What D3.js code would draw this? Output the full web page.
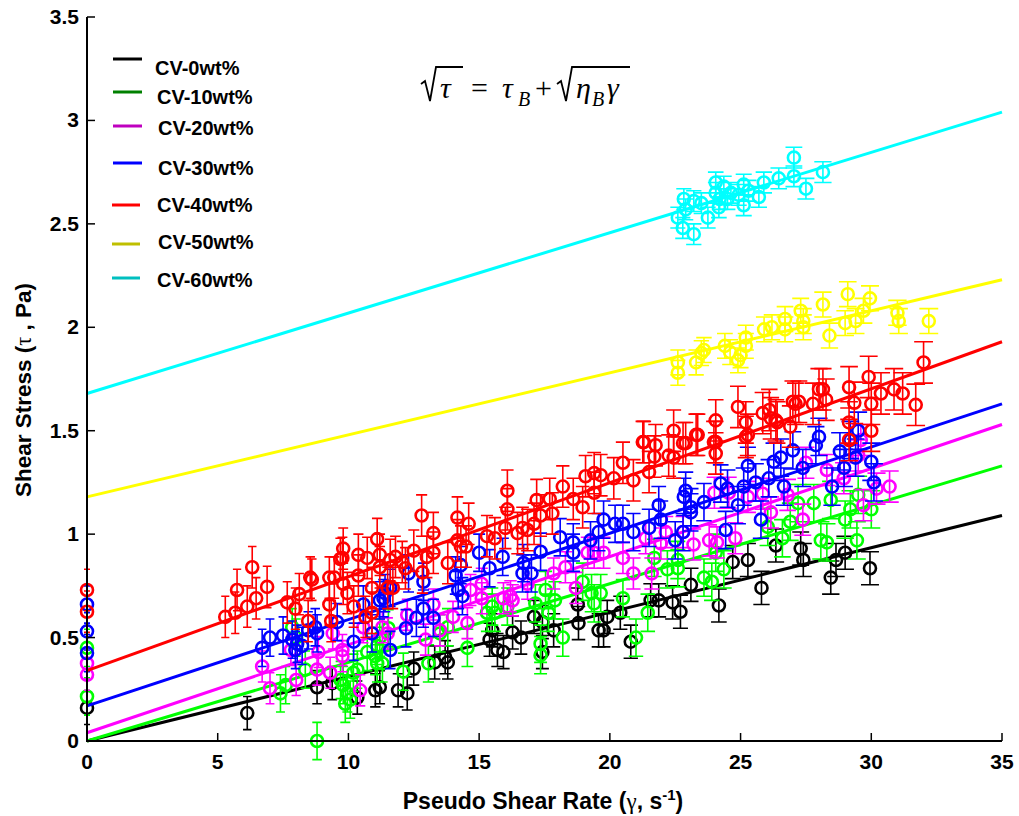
<!DOCTYPE html>
<html><head><meta charset="utf-8">
<script src="https://cdn.jsdelivr.net/npm/d3@7"></script>
<style>
html,body{margin:0;padding:0;background:#fff;}
svg{display:block;font-family:"Liberation Sans",Arial,sans-serif;}
</style></head>
<body>
<svg id="chart" width="1019" height="816"></svg>
<script>
// ---------------- DATA ----------------
const seriesNames = ["CV-0wt%","CV-10wt%","CV-20wt%","CV-30wt%","CV-40wt%","CV-50wt%","CV-60wt%"];
const xTicks = [0,5,10,15,20,25,30,35];
const yTicks = [0,0.5,1,1.5,2,2.5,3,3.5];
const yTickLabels = ["0","0.5","1","1.5","2","2.5","3","3.5"];
// fitted line values [at x=0, at x=35]
const fitStart = [0.0, 0.0, 0.04, 0.17, 0.34, 1.18, 1.68];
const fitEnd   = [1.09, 1.33, 1.53, 1.63, 1.93, 2.23, 3.04];
// error bar half lengths (Pa)
const errHalf = [0.08, 0.09, 0.075, 0.09, 0.10, 0.06, 0.05];

const cv0 = [[0,0.16],[6.13,0.135],[8.8,0.26],[9.38,0.28],[10.34,0.21],[11.03,0.245],[11.9,0.245],[12.25,0.23],[11.2,0.26],[12.5,0.35],[13.3,0.38],[13.8,0.38],[13.7,0.405],[15.5,0.535],[15.93,0.43],[16.28,0.525],[16.6,0.50],[17.1,0.60],[17.42,0.575],[17.42,0.43],[18.77,0.66],[18.8,0.57],[19.57,0.535],[17.85,0.535],[15.4,0.49],[15.7,0.44],[19.76,0.535],[19.9,0.60],[20.4,0.62],[20.8,0.48],[21.56,0.68],[21.87,0.68],[22.4,0.67],[22.7,0.625],[23.1,0.755],[24.17,0.655],[25.28,0.875],[25.8,0.74],[26.35,0.945],[27.3,0.93],[27.4,0.875],[24.7,0.865],[28.45,0.79],[28.65,0.875],[29.0,0.91],[29.95,0.835]];
const cv10 = [[0,0.45],[0,0.215],[7.4,0.23],[7.6,0.27],[7.85,0.55],[8.0,0.50],[8.8,0.0],[8.35,0.345],[9.8,0.27],[9.88,0.18],[9.96,0.23],[10.07,0.20],[10.19,0.33],[9.7,0.295],[11.03,0.41],[11.1,0.46],[11.1,0.375],[11.2,0.50],[10.72,0.43],[10.34,0.345],[11.53,0.545],[11.3,0.375],[12.1,0.335],[13.06,0.375],[13.5,0.52],[14.55,0.45],[15.3,0.62],[15.5,0.65],[15.6,0.62],[16.08,0.65],[17.15,0.665],[17.54,0.73],[17.65,0.62],[17.9,0.68],[18.2,0.50],[17.35,0.47],[17.35,0.415],[18.96,0.77],[19.3,0.715],[19.4,0.665],[13.8,0.55],[19.65,0.715],[20.5,0.69],[21.0,0.50],[21.45,0.62],[21.7,0.885],[22.2,0.83],[22.6,0.835],[22.6,0.875],[23.6,0.79],[23.9,0.77],[24.36,0.83],[24.05,0.91],[26.04,1.035],[26.6,0.98],[26.9,1.06],[27.2,1.15],[27.8,1.15],[28.07,0.97],[28.3,0.96],[29.0,1.07],[29.2,1.12],[29.5,1.19],[28.45,1.165],[29.45,0.97],[30.0,1.12]];
const cv20 = [[0,0.375],[0,0.32],[6.7,0.36],[7.0,0.255],[8.0,0.295],[7.8,0.44],[8.8,0.345],[8.85,0.43],[9.3,0.33],[9.77,0.41],[10.45,0.245],[9.4,0.52],[9.77,0.44],[11.5,0.52],[10.57,0.55],[11.3,0.55],[12.25,0.61],[12.95,0.49],[13.5,0.535],[14.0,0.60],[14.55,0.57],[14.67,0.73],[15.1,0.76],[15.1,0.69],[15.93,0.69],[16.2,0.70],[16.28,0.68],[16.85,0.76],[17.85,0.81],[18.3,0.84],[18.7,0.74],[19.15,0.91],[19.4,0.91],[13.25,0.66],[19.76,0.91],[20.5,0.885],[20.9,0.81],[21.6,0.81],[21.37,0.98],[21.95,0.955],[22.14,1.01],[22.8,1.01],[23.2,0.95],[23.8,0.97],[24.1,0.96],[24.8,0.98],[24.0,1.20],[24.55,1.20],[25.28,1.18],[25.85,1.195],[26.16,1.105],[26.8,1.19],[27.38,1.07],[27.5,1.345],[28.3,1.31],[28.95,1.27],[29.5,1.38],[29.7,1.14],[30.2,1.22],[30.7,1.23],[29.6,1.455]];
const cv30 = [[0,0.66],[0,0.53],[0,0.425],[6.7,0.45],[7.0,0.50],[7.5,0.51],[7.85,0.49],[7.97,0.44],[8.04,0.47],[8.23,0.46],[8.46,0.535],[8.8,0.52],[8.73,0.55],[9.57,0.575],[10.2,0.48],[10.57,0.66],[10.9,0.52],[11.34,0.69],[11.6,0.44],[11.6,0.74],[11.2,0.68],[11.4,0.715],[12.2,0.545],[12.3,0.81],[12.6,0.595],[12.87,0.64],[12.87,0.77],[13.25,0.595],[14.2,0.73],[14.36,0.70],[14.1,0.80],[14.3,0.85],[15.0,0.91],[15.4,0.835],[15.9,0.89],[16.66,0.81],[16.7,0.86],[17.0,0.81],[17.35,0.915],[18.1,0.985],[18.6,0.91],[18.6,0.96],[19.26,0.97],[19.57,1.01],[19.76,1.07],[20.2,1.05],[20.5,1.05],[20.9,1.01],[21.5,1.03],[21.87,1.14],[21.95,1.07],[22.5,0.97],[22.8,1.01],[22.9,1.21],[22.83,1.18],[23.1,1.13],[23.1,1.105],[23.6,1.155],[24.24,1.245],[24.5,1.22],[24.43,1.02],[24.9,1.14],[25.12,1.23],[25.28,1.33],[25.58,1.25],[25.78,1.07],[26.08,1.27],[26.27,1.35],[26.54,1.37],[26.66,1.23],[27.0,1.405],[27.38,1.32],[27.88,1.43],[28.0,1.47],[28.5,1.23],[28.96,1.32],[29.4,1.37],[29.5,1.50],[30.0,1.35],[30.1,1.25],[29.2,1.455],[28.8,1.40]];
const cv40 = [[0,0.73],[0,0.625],[5.29,0.60],[5.67,0.62],[5.74,0.73],[6.13,0.65],[6.32,0.84],[6.47,0.69],[6.89,0.745],[7.66,0.67],[7.97,0.64],[8.12,0.71],[8.54,0.79],[8.6,0.78],[8.46,0.58],[9.27,0.79],[9.27,0.66],[9.34,0.58],[9.46,0.79],[9.69,0.88],[9.8,0.93],[9.8,0.76],[9.96,0.715],[10.2,0.65],[10.38,0.90],[10.38,0.80],[10.65,0.60],[10.72,0.885],[10.9,0.74],[11.1,0.976],[11.2,0.90],[11.2,0.84],[10.9,0.62],[9.77,0.885],[11.5,0.74],[12.8,1.09],[11.6,0.875],[11.8,0.89],[12.06,0.865],[12.18,0.835],[12.5,0.92],[11.7,0.74],[12.83,0.815],[13.0,0.89],[13.25,0.91],[13.25,1.005],[13.8,0.86],[14.17,1.08],[14.17,0.97],[14.3,0.94],[14.6,1.05],[14.5,0.94],[15.3,0.99],[15.6,0.98],[16.0,1.03],[16.08,1.21],[16.08,1.12],[16.47,1.005],[16.66,1.03],[16.85,1.02],[17.1,1.05],[17.35,1.09],[17.2,1.165],[17.7,1.17],[17.8,1.10],[18.2,1.23],[18.6,1.17],[18.96,1.13],[19.07,1.28],[19.4,1.295],[19.4,1.20],[19.65,1.285],[20.15,1.27],[20.5,1.345],[20.9,1.26],[21.26,1.445],[21.5,1.30],[21.75,1.43],[21.7,1.375],[22.25,1.38],[22.44,1.37],[22.44,1.50],[22.9,1.44],[23.36,1.48],[24.05,1.55],[24.05,1.445],[24.05,1.39],[24.9,1.615],[25.2,1.54],[25.28,1.48],[25.85,1.585],[26.1,1.60],[26.16,1.56],[26.35,1.55],[27.0,1.64],[27.23,1.64],[26.9,1.52],[27.77,1.63],[28.0,1.70],[32.0,1.83],[31.7,1.625],[31.2,1.68],[30.87,1.70],[30.37,1.68],[30.0,1.63],[29.9,1.76],[29.15,1.71],[29.35,1.635],[29.15,1.54],[30.0,1.50],[29.15,1.455],[28.15,1.70],[28.27,1.65],[27.1,1.63],[26.4,1.54],[25.2,1.47],[23.98,1.445],[23.3,1.48],[22.8,1.44],[21.3,1.445]];
const cv50 = [[22.6,1.83],[22.6,1.78],[23.3,1.83],[23.5,1.875],[23.6,1.89],[24.4,1.91],[24.6,1.88],[24.9,1.84],[25.0,1.865],[25.2,1.91],[25.2,1.95],[25.9,1.99],[26.2,2.00],[26.7,2.04],[26.7,1.99],[27.3,2.08],[27.4,2.03],[27.4,2.00],[28.15,2.11],[28.4,1.96],[29.1,2.16],[29.0,2.02],[29.4,2.03],[29.7,2.08],[29.95,2.14],[31.0,2.07],[31.05,2.03],[32.2,2.03]];
const cv60 = [[22.83,2.62],[23.21,2.61],[22.6,2.53],[22.79,2.48],[23.21,2.45],[23.75,2.53],[24.17,2.58],[24.05,2.70],[24.05,2.65],[24.36,2.68],[24.63,2.65],[25.12,2.69],[25.12,2.59],[24.93,2.64],[25.7,2.63],[25.89,2.70],[26.46,2.72],[27.04,2.82],[27.04,2.73],[27.5,2.67],[28.15,2.75],[22.9,2.57],[23.5,2.60],[24.5,2.62],[25.3,2.66],[24.2,2.62]];

const plotColors   = ["#000000","#00ff00","#ff00ff","#0000ff","#ff0000","#ffff00","#00ffff"];
const legendColors = ["#000000","#008000","#bf00bf","#0000ff","#ff0000","#bfbf00","#00bfbf"];
const allSeries = [cv0, cv10, cv20, cv30, cv40, cv50, cv60];

// ---------------- CHART ----------------
const svg = d3.select("#chart");
svg.append("rect").attr("width",1019).attr("height",816).attr("fill","#fff");
const L = 87, R = 1002, T = 17, B = 741;
const x = d3.scaleLinear().domain([0,35]).range([L,R]);
const y = d3.scaleLinear().domain([0,3.5]).range([B,T]);

const capHalf = v => 3 + 0.2*v;

allSeries.forEach((data,i) => {
  const g = svg.append("g");
  const c = plotColors[i];
  const e = errHalf[i];
  g.selectAll("path.eb").data(data).join("path")
    .attr("d", d => {
      const px = x(d[0]), y1 = y(d[1]-e), y2 = y(d[1]+e), h = capHalf(d[0]);
      return `M${px},${y1}V${y2}M${px-h},${y1}H${px+h}M${px-h},${y2}H${px+h}`;
    })
    .attr("stroke", c).attr("stroke-width",1.6).attr("fill","none");
  g.selectAll("circle").data(data).join("circle")
    .attr("cx", d=>x(d[0])).attr("cy", d=>y(d[1])).attr("r",6)
    .attr("fill","none").attr("stroke",c).attr("stroke-width",2.6);
  g.append("line")
    .attr("x1", x(0)).attr("y1", y(fitStart[i]))
    .attr("x2", x(35)).attr("y2", y(fitEnd[i]))
    .attr("stroke", c).attr("stroke-width",3);
});

// axes
const ax = svg.append("g").attr("font-weight","bold").attr("fill","#000");
ax.append("line").attr("x1",L).attr("x2",L).attr("y1",T).attr("y2",B+1).attr("stroke","#000").attr("stroke-width",2);
ax.append("line").attr("x1",L-1).attr("x2",R).attr("y1",B).attr("y2",B).attr("stroke","#000").attr("stroke-width",2);
xTicks.forEach(t => {
  ax.append("line").attr("x1",x(t)).attr("x2",x(t)).attr("y1",B).attr("y2",B-8).attr("stroke","#000").attr("stroke-width",1.5);
  ax.append("text").attr("x",x(t)).attr("y",B+28).attr("text-anchor","middle")
    .attr("font-size",21).text(t);
});
yTicks.forEach((t,k) => {
  ax.append("line").attr("x1",L).attr("x2",L+8).attr("y1",y(t)).attr("y2",y(t)).attr("stroke","#000").attr("stroke-width",1.5);
  ax.append("text").attr("x",L-8).attr("y",y(t)+7).attr("text-anchor","end")
    .attr("font-size",21).text(yTickLabels[k]);
});

// axis titles
const xt = svg.append("text").attr("x",543).attr("y",809).attr("text-anchor","middle")
  .attr("font-size",23).attr("font-weight","bold");
xt.append("tspan").text("Pseudo Shear Rate (");
xt.append("tspan").attr("font-weight","normal").attr("font-family","'Liberation Serif',serif").text("γ");
xt.append("tspan").text(", s");
xt.append("tspan").attr("dy",-9).attr("font-size",15).text("-1");
xt.append("tspan").attr("dy",9).text(")");

const yt = svg.append("text").attr("transform","translate(31,390) rotate(-90)").attr("text-anchor","middle")
  .attr("font-size",22.5).attr("font-weight","bold");
yt.append("tspan").text("Shear Stress (");
yt.append("tspan").attr("font-weight","normal").attr("font-family","'Liberation Serif',serif").text("τ");
yt.append("tspan").text(" , Pa)");

// legend
const legLineY = [59, 92, 126, 163, 205, 244, 278];
const legTextY = [75, 104, 135, 175, 212, 249, 287];
const legTextX = [155, 157, 158, 158, 157, 158, 157];
seriesNames.forEach((n,i) => {
  svg.append("line").attr("x1",i<4?113:112).attr("x2",i<4?142:140).attr("y1",legLineY[i]).attr("y2",legLineY[i])
    .attr("stroke",legendColors[i]).attr("stroke-width",3);
  svg.append("text").attr("x",legTextX[i]).attr("y",legTextY[i]).attr("font-size",20)
    .attr("font-weight","bold").text(n);
});

// formula
const fm = svg.append("g").attr("font-family","'Liberation Serif','Times New Roman',serif").attr("font-size",30).attr("font-style","italic");
const rad = (x0, x1) => `M${x0},${84} L${x0+4},${81} L${x0+9},${101} L${x0+15},${67} L${x1},${67}`;
fm.append("path").attr("d", rad(421,463)).attr("stroke","#000").attr("stroke-width",1.8).attr("fill","none");
fm.append("text").attr("x",440).attr("y",98).text("τ");
fm.append("text").attr("x",471).attr("y",98).attr("font-style","normal").text("=");
fm.append("text").attr("x",502).attr("y",98).text("τ");
fm.append("text").attr("x",518).attr("y",106).attr("font-size",20).text("B");
fm.append("text").attr("x",535).attr("y",98).attr("font-style","normal").text("+");
fm.append("path").attr("d", rad(557,630)).attr("stroke","#000").attr("stroke-width",1.8).attr("fill","none");
fm.append("text").attr("x",576).attr("y",98).text("η");
fm.append("text").attr("x",592).attr("y",106).attr("font-size",20).text("B");
fm.append("text").attr("x",607).attr("y",98).text("γ");
</script>
</body></html>
